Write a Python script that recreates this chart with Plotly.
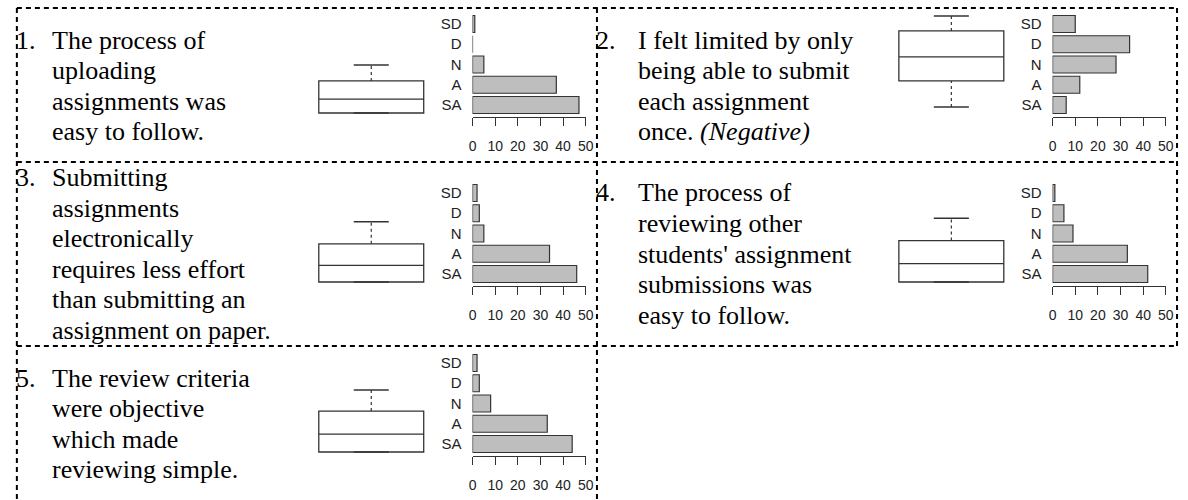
import plotly.graph_objects as go

W, H = 1188, 500

# ---------------- data ----------------
categories = ["SD", "D", "N", "A", "SA"]
x_ticks = [0, 10, 20, 30, 40, 50]

q_numbers = ["1.", "2.", "3.", "4.", "5."]
q1_text = ["The process of", "uploading", "assignments was", "easy to follow."]
q2_text = ["I felt limited by only", "being able to submit", "each assignment", "once. <i>(Negative)</i>"]
q3_text = ["Submitting", "assignments", "electronically", "requires less effort",
           "than submitting an", "assignment on paper."]
q4_text = ["The process of", "reviewing other", "students' assignment",
           "submissions was", "easy to follow."]
q5_text = ["The review criteria", "were objective", "which made", "reviewing simple."]

counts_q1 = [1, 0, 5, 37, 47]
counts_q2 = [10, 34, 28, 12, 6]
counts_q3 = [2, 3, 5, 34, 46]
counts_q4 = [1, 5, 9, 33, 42]
counts_q5 = [2, 3, 8, 33, 44]

# box-plot summaries (response scale, 1 = SA ... 5 = SD)
box_lower = [1.00, 1.24, 1.00, 1.00, 1.00]
box_q1 = [1.00, 2.31, 1.00, 1.00, 1.00]
box_median = [1.57, 3.29, 1.68, 1.75, 1.73]
box_q3 = [2.31, 4.35, 2.56, 2.69, 2.67]
box_upper = [2.96, 4.96, 3.46, 3.60, 3.53]

texts = [q1_text, q2_text, q3_text, q4_text, q5_text]
counts = [counts_q1, counts_q2, counts_q3, counts_q4, counts_q5]

# ---------------- layout helpers ----------------
def px_x(p):
    return p / W

def px_y(p):
    return 1 - p / H

col_dx = [0, 586]
col_text_dx = [0, 6]
row_dy = [0, 169, 339]
row_center = [86, 254, 424]
panel_pos = [(0, 0), (1, 0), (0, 1), (1, 1), (0, 2)]

fig = go.Figure()
layout = dict(
    width=W, height=H,
    margin=dict(l=0, r=0, t=0, b=0),
    paper_bgcolor="white", plot_bgcolor="rgba(0,0,0,0)",
    showlegend=False,
)

EDGE = "#333333"
BAR_FILL = "#bebebe"
SANS = "Liberation Sans Narrow, Arial Narrow, Liberation Sans, Arial"
SERIF = "Liberation Serif, Times New Roman, serif"

annotations = []
shapes = []

for k in range(5):
    c, r = panel_pos[k]
    dx, dy = col_dx[c], row_dy[r]
    bx, by = 2 * k + 1, 2 * k + 2
    bxn = "" if bx == 1 else str(bx)

    ydom = [px_y(117 + dy), px_y(13.3 + dy)]

    # --- box plot axes ---
    layout[f"xaxis{bxn}"] = dict(domain=[px_x(307.4 + dx), px_x(434.6 + dx)],
                                  range=[-0.6, 0.6], visible=False, anchor=f"y{bxn}")
    layout[f"yaxis{bxn}"] = dict(domain=ydom, range=[0.837, 5.069],
                                  visible=False, anchor=f"x{bxn}")
    fig.add_trace(go.Box(
        x=[0], q1=[box_q1[k]], median=[box_median[k]], q3=[box_q3[k]],
        lowerfence=[box_q1[k]], upperfence=[box_q3[k]],
        width=1, fillcolor="white", line=dict(color=EDGE, width=1.3),
        boxpoints=False, xaxis=f"x{bxn}", yaxis=f"y{bxn}", hoverinfo="skip",
    ))
    # whiskers (dashed) and staples
    for a, b in [(box_q3[k], box_upper[k]), (box_lower[k], box_q1[k])]:
        fig.add_trace(go.Scatter(x=[0, 0], y=[a, b], mode="lines",
                                 line=dict(color=EDGE, width=1.2, dash="3px,3px"),
                                 xaxis=f"x{bxn}", yaxis=f"y{bxn}", hoverinfo="skip"))
    for v in [box_upper[k], box_lower[k]]:
        fig.add_trace(go.Scatter(x=[-0.167, 0.167], y=[v, v], mode="lines",
                                 line=dict(color=EDGE, width=1.5),
                                 xaxis=f"x{bxn}", yaxis=f"y{bxn}", hoverinfo="skip"))

    # --- bar chart axes ---
    layout[f"xaxis{by}"] = dict(
        domain=[px_x(473.3 + dx), px_x(587.7 + dx)], range=[0, 50],
        tickvals=x_ticks, ticks="outside", ticklen=8, tickwidth=1, tickcolor=EDGE,
        showline=True, linecolor=EDGE, linewidth=1, showgrid=False, zeroline=False,
        tickfont=dict(family=SANS, size=14, color="#222"), ticklabelstandoff=8,
        anchor=f"y{by}", fixedrange=True,
    )
    layout[f"yaxis{by}"] = dict(
        domain=ydom, range=[4.593, -0.528], type="category",
        categoryorder="array", categoryarray=categories,
        showline=False, ticks="", showgrid=False, zeroline=False,
        tickfont=dict(family=SANS, size=15, color="#222"), ticklabelstandoff=10,
        anchor=f"x{by}", fixedrange=True,
    )
    fig.add_trace(go.Bar(
        y=categories, x=counts[k], orientation="h", width=0.84,
        marker=dict(color=BAR_FILL, line=dict(color=EDGE, width=1.2)),
        xaxis=f"x{by}", yaxis=f"y{by}", hoverinfo="skip",
    ))

    # --- question text ---
    lines = texts[k]
    s = 30.6
    n = len(lines)
    y0 = row_center[r] - s * (n - 1) / 2
    left = 13 + dx
    annotations.append(dict(text=q_numbers[k], x=px_x(left - 3), y=px_y(y0),
                            xref="paper", yref="paper", xanchor="left", yanchor="middle",
                            showarrow=False, font=dict(family=SERIF, size=26, color="black")))
    for i, ln in enumerate(lines):
        annotations.append(dict(text=ln, x=px_x(left + 33 + col_text_dx[c]), y=px_y(y0 + i * s),
                                xref="paper", yref="paper", xanchor="left", yanchor="middle",
                                showarrow=False, font=dict(family=SERIF, size=26, color="black")))

# ---------------- dashed grid ----------------
dash_line = dict(color="black", width=2, dash="5px,4px")
for y, x0, x1 in [(8, 13, 1185), (162, 13, 1185), (346, 13, 1185)]:
    shapes.append(dict(type="line", xref="paper", yref="paper",
                       x0=px_x(x0), x1=px_x(x1), y0=px_y(y), y1=px_y(y), line=dash_line))
for x, y0, y1 in [(13, 8, 500), (599, 8, 500), (1185, 8, 346)]:
    shapes.append(dict(type="line", xref="paper", yref="paper",
                       x0=px_x(x), x1=px_x(x), y0=px_y(y0), y1=px_y(y1), line=dash_line))

layout["annotations"] = annotations
layout["shapes"] = shapes
fig.update_layout(**layout)

fig.write_html("out.html",
               config={"displayModeBar": False, "staticPlot": True},
               post_script="document.body.style.margin='0';document.body.style.padding='0';")
